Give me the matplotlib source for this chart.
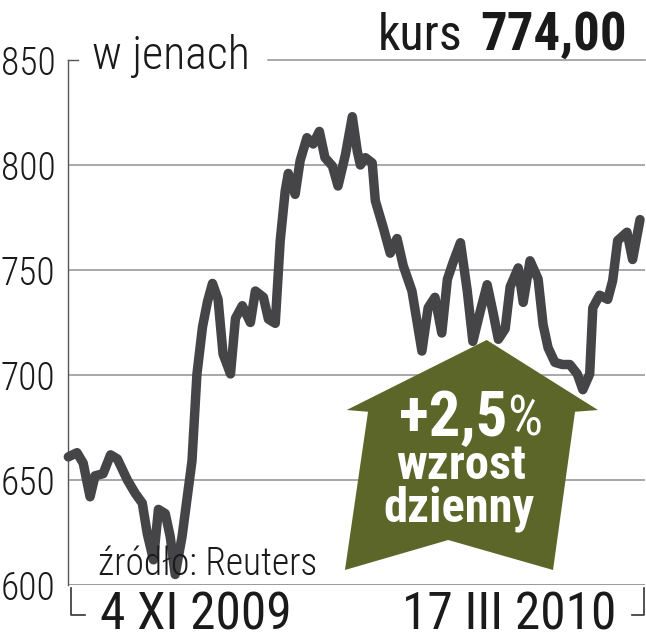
import matplotlib
matplotlib.use("Agg")
import matplotlib.pyplot as plt
from matplotlib import font_manager
from matplotlib.patches import Polygon

# trading days since 4 XI 2009 and closing price in yen
days = [0, 1.4, 2.4, 3.5, 4.3, 5.6, 6.8, 7.9, 9.5, 10.8, 11.9, 12.7, 13.7, 14.5, 15.6,
        16.4, 17.2, 18.3, 19.9, 20.7, 21.6, 22.4, 23.2, 24.1, 24.9, 26.1, 26.9, 28.0,
        29.3, 30.1, 31.4, 32.2, 33.3, 34.1, 34.9, 35.4, 36.5, 37.3, 38.4, 39.4, 40.4,
        41.3, 42.5, 43.4, 44.6, 45.7, 46.5, 47.0, 47.8, 48.9, 49.4, 50.7, 51.8, 52.9,
        53.9, 55.3, 56.9, 57.9, 59.0, 60.1, 61.0, 61.9, 63.1, 64.2, 65.1, 66.3, 67.4,
        68.4, 69.2, 70.3, 71.1, 72.4, 73.2, 74.3, 75.6, 76.4, 77.2, 78.3, 79.5, 80.7,
        81.9, 82.8, 83.9, 84.4, 85.5, 86.8, 87.6, 88.4, 89.9, 90.8, 92]
prices = [661, 663, 658, 642, 652, 653, 662, 660, 650, 643.5, 639, 624.5, 612, 636, 634,
          623, 605, 623, 659, 700.5, 723, 735, 743.6, 736, 710, 700.5, 727, 733,
          725, 740, 737, 726.6, 724.6, 764, 787.6, 796, 786, 802, 813, 810, 816,
          803.5, 799.5, 790, 805, 823, 806.6, 800, 803.5, 801, 783, 770, 758, 765,
          752, 740, 711.4, 732, 737, 720, 745.6, 753.5, 763, 740, 716, 730.5, 743,
          729, 717, 722, 742, 751, 734.6, 754.4, 745.7, 724, 713, 706, 705, 705,
          700.5, 693, 700.5, 732, 738, 736, 745, 764, 768, 755, 774]

yticks = [600, 650, 700, 750, 800, 850]
start_label = "4 XI 2009"
end_label = "17 III 2010"
unit_label = "w jenach"
last_price = "774,00"
change = "+2,5"
source = "źródło: Reuters"

installed = {f.name for f in font_manager.fontManager.ttflist}


def pick(*names):
    for n in names:
        if n in installed:
            return n
    return "DejaVu Sans"


cond = pick("Roboto Condensed", "Liberation Sans Narrow", "Roboto", "Open Sans")

W, H = 646, 640
fig = plt.figure(figsize=(W / 100, H / 100), dpi=100)
L, R, T, B = 68, 645, 60, 585
ax = fig.add_axes([L / W, 1 - B / H, (R - L) / W, (B - T) / H])
ax.set_xlim(-0.05, 92.8)
ax.set_ylim(600, 850)

grid_c = "#9a9a9a"
for v in yticks[1:-1]:
    ax.axhline(v, color=grid_c, lw=1.2, zorder=1)
ax.axhline(600, color=grid_c, lw=1.4, zorder=1)
ax.axhline(850, xmin=(268 - L) / (R - L), color=grid_c, lw=1.2, zorder=1, clip_on=False)
ax.axhline(850, xmax=0.018, color="#555555", lw=1.0, zorder=1, clip_on=False)

for s in ["top", "right", "bottom"]:
    ax.spines[s].set_visible(False)
ax.spines["left"].set_color("#555555")
ax.spines["left"].set_linewidth(1.0)
ax.set_xticks([])
ax.set_yticks(yticks)
ax.set_yticklabels([str(v) for v in yticks], fontfamily=cond, fontweight="light",
                   fontsize=27, color="#1a1a1a")
ax.tick_params(axis="y", length=0, pad=9)

ax.plot(days, prices, color="#454548", lw=6.8, solid_joinstyle="round",
        solid_capstyle="round", zorder=3, clip_on=False)

# arrow badge (axes fraction)
arrow = [(0.7256, 0.4667), (0.9185, 0.3333), (0.8787, 0.330), (0.8406, 0.0286),
         (0.659, 0.0857), (0.480, 0.0286), (0.520, 0.330), (0.483, 0.3333)]
ax.add_patch(Polygon(arrow, closed=True, transform=ax.transAxes,
                     facecolor="#5b6628", edgecolor="none", zorder=4))


def px(x, y):
    return x / W, 1 - y / H


fig.text(*px(507, 436), change, ha="right", va="baseline", color="white",
         fontfamily=cond, fontweight="bold", fontsize=45, zorder=5)
fig.text(*px(507, 436), "%", ha="left", va="baseline", color="white",
         fontfamily=cond, fontweight="normal", fontsize=40, zorder=5)
fig.text(*px(461, 479), "wzrost", ha="center", va="baseline", color="white",
         fontfamily=cond, fontweight="bold", fontsize=35, zorder=5)
fig.text(*px(459, 521), "dzienny", ha="center", va="baseline", color="white",
         fontfamily=cond, fontweight="bold", fontsize=35, zorder=5)

fig.text(*px(92, 69), unit_label, ha="left", va="baseline", color="#1a1a1a",
         fontfamily=cond, fontweight="light", fontsize=33)
fig.text(*px(378, 50), "kurs", ha="left", va="baseline", color="#1a1a1a",
         fontfamily=cond, fontweight="normal", fontsize=36)
fig.text(*px(627, 50), last_price, ha="right", va="baseline", color="#1a1a1a",
         fontfamily=cond, fontweight="black", fontsize=38)
fig.text(*px(98, 575), source, ha="left", va="baseline", color="#1a1a1a",
         fontfamily=cond, fontweight="light", fontsize=27, zorder=6)

fig.text(*px(100, 630), start_label, ha="left", va="baseline", color="#1a1a1a",
         fontfamily=cond, fontweight="normal", fontsize=37)
fig.text(*px(616, 630), end_label, ha="right", va="baseline", color="#1a1a1a",
         fontfamily=cond, fontweight="normal", fontsize=37)

# bracket marks under the date axis
fig.add_artist(plt.Line2D([71 / W, 71 / W, 85 / W], [1 - 588 / H, 1 - 615 / H, 1 - 615 / H],
                          color="#333333", lw=1.2))
fig.add_artist(plt.Line2D([644 / W, 644 / W, 632 / W], [1 - 588 / H, 1 - 615 / H, 1 - 615 / H],
                          color="#333333", lw=1.2))

fig.savefig("out.png", dpi=100, facecolor="white")
